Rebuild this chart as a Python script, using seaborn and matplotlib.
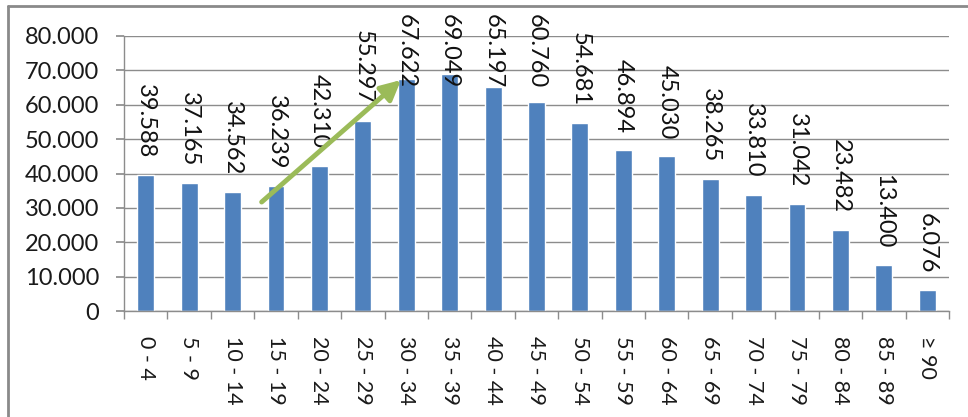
import matplotlib
matplotlib.use("Agg")
import matplotlib.pyplot as plt
import seaborn as sns
import pandas as pd
from matplotlib.ticker import FuncFormatter, MultipleLocator
from matplotlib.lines import Line2D

categories = ["0 - 4", "5 - 9", "10 - 14", "15 - 19", "20 - 24", "25 - 29", "30 - 34",
              "35 - 39", "40 - 44", "45 - 49", "50 - 54", "55 - 59", "60 - 64", "65 - 69",
              "70 - 74", "75 - 79", "80 - 84", "85 - 89", "\u2265 90"]
values = [39588, 37165, 34562, 36239, 42310, 55297, 67622, 69049, 65197, 60760,
          54681, 46894, 45030, 38265, 33810, 31042, 23482, 13400, 6076]

# trend arrow (data coordinates: category index, value)
arrow_start = (2.67, 31700)
arrow_end = (5.88, 67200)

sns.set_theme(style="white")
plt.rcParams['font.family'] = ['Lato', 'DejaVu Sans']

DPI = 100
W, H = 968, 417
fig = plt.figure(figsize=(W / DPI, H / DPI), dpi=DPI)
ax = fig.add_axes([124/W, 1 - 311/H, (949-124)/W, (311-36)/H])

df = pd.DataFrame({"cat": categories, "val": values})
sns.barplot(data=df, x="cat", y="val", color="#4F81BD", saturation=1, width=0.39, ax=ax)

ax.set_ylim(0, 80000)
ax.set_xlim(-0.5, len(categories) - 0.5)
ax.yaxis.set_major_locator(MultipleLocator(10000))
fmt = lambda v, p: f"{int(v):,}".replace(",", ".")
ax.yaxis.set_major_formatter(FuncFormatter(fmt))
ax.grid(axis="y", color="#8c8c8c", linewidth=1)
ax.set_axisbelow(True)
ax.set_xlabel("")
ax.set_ylabel("")
for s in ["top", "right"]:
    ax.spines[s].set_visible(False)
for s in ["left", "bottom"]:
    ax.spines[s].set_color("#8c8c8c")
    ax.spines[s].set_linewidth(1)

FS = 17
ax.tick_params(axis="y", left=True, length=6, color="#8c8c8c", labelsize=FS, pad=12, labelcolor="#1a1a1a")
ax.tick_params(axis="x", bottom=False, labelsize=15.5, pad=12, labelcolor="#1a1a1a")
ax.set_xticks(range(len(categories)))
ax.set_xticklabels(categories, rotation=270, va="top", ha="center")
ax.set_xticks([i - 0.5 for i in range(len(categories) + 1)], minor=True)
ax.tick_params(axis="x", which="minor", bottom=True, length=6, color="#8c8c8c")

OFF = 17 * 72 / DPI
anns = []
for i, v in enumerate(values):
    a = ax.annotate(fmt(v, None), (i, v), xytext=(0, OFF), textcoords="offset points",
                    rotation=270, ha="center", va="bottom", fontsize=FS, color="#111111",
                    annotation_clip=False)
    anns.append(a)

# keep labels inside the chart area, as in the original
fig.canvas.draw()
r = fig.canvas.get_renderer()
limit = H - 14
for a in anns:
    bb = a.get_window_extent(r)
    if bb.y1 > limit:
        excess_pt = (bb.y1 - limit) * 72 / DPI
        a.xyann = (0, OFF - excess_pt)

ax.annotate("", xy=arrow_end, xytext=arrow_start,
            arrowprops=dict(arrowstyle="-|>,head_length=1.0,head_width=0.5",
                            color="#9BBB59", lw=3.5, shrinkA=0, shrinkB=0),
            zorder=5)

fig.add_artist(Line2D([8/W, 8/W], [0, 1 - 6/H], transform=fig.transFigure,
                      color="#8a8a8a", lw=2))
fig.add_artist(Line2D([8/W, 1], [1 - 6/H, 1 - 6/H], transform=fig.transFigure,
                      color="#8a8a8a", lw=2))

fig.savefig("out.png", dpi=DPI)
